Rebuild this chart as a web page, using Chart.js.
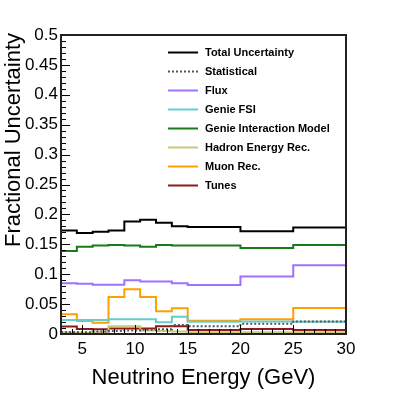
<!DOCTYPE html>
<html>
<head>
<meta charset="utf-8">
<script src="https://cdn.jsdelivr.net/npm/chart.js@4"></script>
<style>
  html, body { margin: 0; padding: 0; background: #fff; }
  #wrap { width: 407px; height: 394px; }
</style>
</head>
<body>
<div id="wrap"><canvas id="myChart" width="407" height="394"></canvas></div>
<script>
// bin edges in GeV, one value per bin for every series
const binEdges = [3, 4.5, 6, 7.5, 9, 10.5, 12, 13.5, 15, 20, 25, 30]

const total       = [0.173, 0.169, 0.171, 0.173, 0.188, 0.191, 0.186, 0.180, 0.179, 0.172, 0.178]
const statistical = [0.003, 0.003, 0.004, 0.005, 0.006, 0.007, 0.008, 0.015, 0.013, 0.017, 0.021]
const flux        = [0.085, 0.084, 0.0825, 0.0825, 0.090, 0.088, 0.088, 0.085, 0.082, 0.096, 0.115]
const genieFSI    = [0.0234, 0.0234, 0.0234, 0.0245, 0.0245, 0.0245, 0.0195, 0.029, 0.0206, 0.021, 0.0206]
const genieModel  = [0.139, 0.146, 0.148, 0.149, 0.148, 0.146, 0.149, 0.148, 0.148, 0.144, 0.149]
const hadronRec   = [0.003, 0.002, 0.003, 0.013, 0.013, 0.006, 0.005, 0.004, 0.003, 0.003, 0.003]
const muonRec     = [0.033, 0.0217, 0.019, 0.062, 0.075, 0.062, 0.038, 0.043, 0.022, 0.0245, 0.0435]
const tunes       = [0.0125, 0.0085, 0.008, 0.009, 0.009, 0.009, 0.013, 0.013, 0.0067, 0.0085, 0.0067]

const xTicks = [5, 10, 15, 20, 25, 30]
const yTicks = [0, 0.05, 0.1, 0.15, 0.2, 0.25, 0.3, 0.35, 0.4, 0.45, 0.5]

const xTitle = 'Neutrino Energy (GeV)'
const yTitle = 'Fractional Uncertainty'

// first point carries bin 1, each following edge closes the bin before it
const steps = vals => binEdges.map((e, i) => ({ x: e, y: vals[Math.max(0, i - 1)] }))

const serie = (label, vals, color, dash) => ({
    label,
    data: steps(vals),
    borderColor: color,
    borderWidth: 2,
    borderDash: dash || [],
    stepped: 'after',
    pointRadius: 0,
    fill: false
})

const datasets = [
    serie('Total Uncertainty', total, '#000000'),
    serie('Statistical', statistical, '#555555', [2, 2]),
    serie('Flux', flux, '#a070ff'),
    serie('Genie FSI', genieFSI, '#66cccc'),
    serie('Genie Interaction Model', genieModel, '#1a7a1a'),
    serie('Hadron Energy Rec.', hadronRec, '#c8c878'),
    serie('Muon Rec.', muonRec, '#ff9f00'),
    serie('Tunes', tunes, '#8b1c1c')
]

const FONT = '"Liberation Sans", Arial, Helvetica, sans-serif'

// ROOT-style frame, inner ticks, titles and legend
const rootStyle = {
    id: 'rootStyle',
    afterDraw(chart) {
        const ctx = chart.ctx
        const { left, right, top, bottom } = chart.chartArea
        const xs = chart.scales.x
        const ys = chart.scales.y

        ctx.save()
        ctx.strokeStyle = '#000'
        ctx.lineWidth = 1
        ctx.beginPath()
        for (let v = 3; v <= 30; v++) {
            const px = Math.round(xs.getPixelForValue(v)) + 0.5
            const len = v % 5 === 0 ? 9 : 5
            ctx.moveTo(px, bottom)
            ctx.lineTo(px, bottom - len)
        }
        for (let i = 0; i <= 50; i++) {
            const py = Math.round(ys.getPixelForValue(i * 0.01)) + 0.5
            const len = i % 5 === 0 ? 9 : 5
            ctx.moveTo(left, py)
            ctx.lineTo(left + len, py)
        }
        ctx.stroke()

        ctx.strokeStyle = '#222'
        ctx.lineWidth = 2
        ctx.strokeRect(left, top, right - left, bottom - top)

        // axis titles
        ctx.fillStyle = '#000'
        ctx.font = '22px ' + FONT
        ctx.textAlign = 'center'
        ctx.textBaseline = 'alphabetic'
        ctx.fillText(xTitle, (left + right) / 2, 384)

        ctx.translate(20, 33)
        ctx.rotate(-Math.PI / 2)
        ctx.textAlign = 'right'
        ctx.fillText(yTitle, 0, 0)
        ctx.restore()

        // legend
        ctx.save()
        ctx.font = 'bold 11px ' + FONT
        ctx.textBaseline = 'middle'
        ctx.textAlign = 'left'
        chart.data.datasets.forEach((ds, i) => {
            const y = 52.5 + 19 * i
            ctx.strokeStyle = ds.borderColor
            ctx.lineWidth = 2
            ctx.setLineDash(ds.borderDash)
            ctx.beginPath()
            ctx.moveTo(168, y)
            ctx.lineTo(198, y)
            ctx.stroke()
            ctx.setLineDash([])
            ctx.fillStyle = '#000'
            ctx.fillText(ds.label, 205, y + 0.5)
        })
        ctx.restore()
    }
}

const ctx = document.getElementById('myChart').getContext('2d')

new Chart(ctx, {
    type: 'line',
    data: { datasets },
    options: {
        responsive: false,
        animation: false,
        layout: { padding: { left: 0, top: 35, right: 61, bottom: 0 } },
        plugins: { legend: { display: false }, tooltip: { enabled: false } },
        scales: {
            x: {
                type: 'linear',
                min: 3,
                max: 30,
                afterBuildTicks: s => { s.ticks = xTicks.map(v => ({ value: v })) },
                afterFit: s => { s.height = 60 },
                grid: { display: false, drawTicks: false },
                border: { display: false },
                ticks: { color: '#000', font: { family: FONT, size: 17 }, padding: 5, maxRotation: 0 }
            },
            y: {
                type: 'linear',
                min: 0,
                max: 0.5,
                afterBuildTicks: s => { s.ticks = yTicks.map(v => ({ value: v })) },
                afterFit: s => { s.width = 61 },
                grid: { display: false, drawTicks: false },
                border: { display: false },
                ticks: {
                    color: '#000',
                    font: { family: FONT, size: 17 },
                    padding: 3,
                    callback: v => String(+v.toFixed(2))
                }
            }
        }
    },
    plugins: [rootStyle]
})
</script>
</body>
</html>
